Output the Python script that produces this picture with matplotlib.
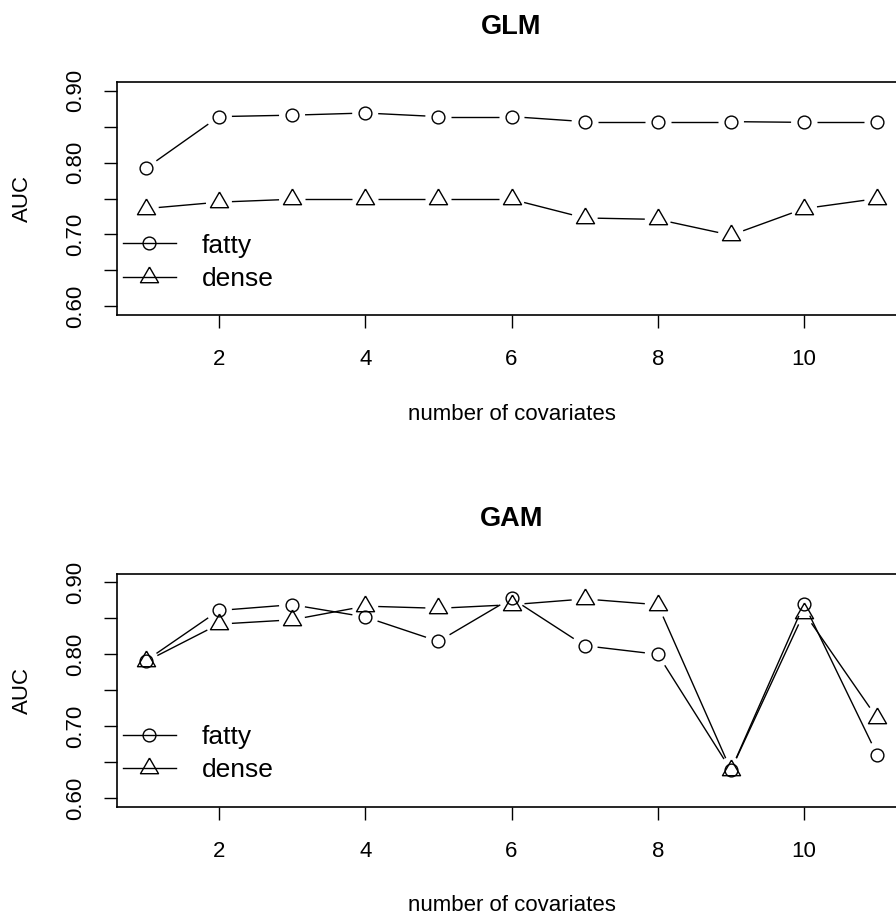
import numpy as np
import matplotlib
matplotlib.use('Agg')
from matplotlib import pyplot as plt
from matplotlib.lines import Line2D

plt.rcParams['font.family'] = ['Liberation Sans', 'DejaVu Sans']

n_covariates = list(range(1, 12))
glm_fatty = [0.792, 0.864, 0.866, 0.869, 0.864, 0.864, 0.857, 0.857, 0.857, 0.856, 0.856]
glm_dense = [0.736, 0.745, 0.749, 0.749, 0.749, 0.749, 0.723, 0.721, 0.699, 0.736, 0.750]
gam_fatty = [0.791, 0.861, 0.869, 0.852, 0.818, 0.878, 0.812, 0.800, 0.639, 0.870, 0.660]
gam_dense = [0.790, 0.842, 0.848, 0.867, 0.864, 0.869, 0.877, 0.869, 0.639, 0.858, 0.711]
y_ticks = [0.60, 0.65, 0.70, 0.75, 0.80, 0.85, 0.90]
y_tick_labels = ['0.60', '', '0.70', '', '0.80', '', '0.90']
x_ticks = [2, 4, 6, 8, 10]
series_names = ['fatty', 'dense']
panel_titles = ['GLM', 'GAM']

# R style pch=2 triangle, centred on its centroid
tri = [(0, 1), (-0.866, -0.5), (0.866, -0.5), (0, 1)]
markers = [dict(marker='o', ms=9.2), dict(marker=tri, ms=15)]
GAP = 13  # px between point centre and line end (type="b")


def draw_series(ax, xs, ys, mk):
    pts = ax.transData.transform(np.column_stack([xs, ys]))
    inv = ax.transData.inverted()
    for p0, p1 in zip(pts[:-1], pts[1:]):
        d = p1 - p0
        length = np.hypot(*d)
        if length <= 2 * GAP:
            continue
        u = d / length
        a = inv.transform(p0 + u * GAP)
        b = inv.transform(p1 - u * GAP)
        ax.plot([a[0], b[0]], [a[1], b[1]], color='black', lw=1.0,
                solid_capstyle='butt')
    ax.plot(xs, ys, ls='none', mfc='none', mec='black', mew=1.0, **mk)


fig = plt.figure(figsize=(8.96, 9.15), dpi=100)
panels = [(glm_fatty, glm_dense), (gam_fatty, gam_dense)]
bottoms = [1 - 315.0 / 915, 1 - 806.7 / 915]
height = 232.9 / 915

for title, (fatty, dense), bottom in zip(panel_titles, panels, bottoms):
    ax = fig.add_axes([116.5 / 896, bottom, 790.0 / 896, height])
    ax.set_xlim(0.6, 11.4)
    ax.set_ylim(0.588, 0.912)

    for ys, mk in zip((fatty, dense), markers):
        draw_series(ax, n_covariates, ys, mk)

    ax.set_xticks(x_ticks)
    ax.set_yticks(y_ticks, y_tick_labels)
    ax.tick_params(length=9.4, width=1.0, labelsize=16, direction='out')
    ax.tick_params(axis='x', pad=15)
    ax.tick_params(axis='y', pad=12.5, labelrotation=90)
    for lab in ax.get_yticklabels():
        lab.set_va('center')
    for sp in ax.spines.values():
        sp.set_linewidth(1.2)

    ax.set_title(title, fontsize=19.5, fontweight='bold', pad=34.5)
    ax.set_xlabel('number of covariates', fontsize=16, va='center')
    ax.xaxis.set_label_coords(0.5, -99.0 / 232.9)
    ax.set_ylabel('AUC', fontsize=16, va='center', ha='center')
    ax.yaxis.set_label_coords(-94.0 / 790, 0.5)

    handles = [Line2D([], [], color='black', lw=1.0, mfc='none', mec='black',
                      mew=1.0, **mk) for mk in markers]
    ax.legend(handles, series_names, loc='center left',
              bbox_to_anchor=(0.008, 0.227), frameon=False, fontsize=19,
              handlelength=2.0, handletextpad=1.0, labelspacing=0.35,
              borderpad=0, borderaxespad=0)

fig.savefig('out.png', dpi=100)
